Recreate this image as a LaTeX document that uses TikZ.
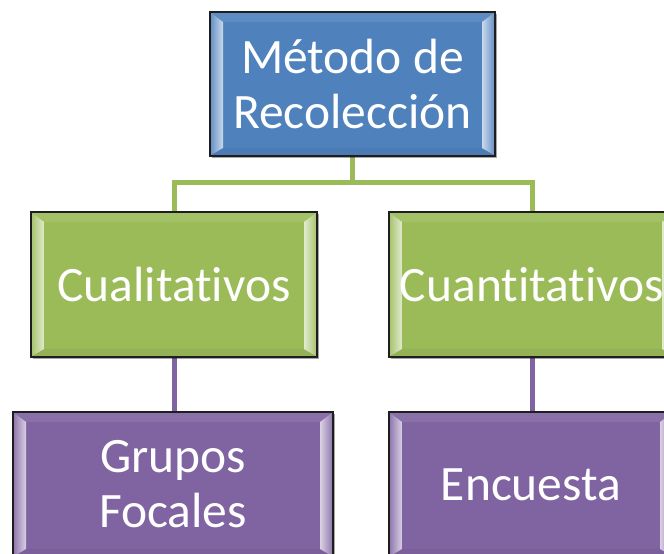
\documentclass[tikz,border=0pt]{standalone}
\usepackage{fontspec}
\newfontfamily\boxfont[Ligatures=NoCommon]{Carlito}
\usetikzlibrary{calc,shadows,backgrounds}
\definecolor{bluefill}{HTML}{4F81BD}
\definecolor{greenfill}{HTML}{9BBB59}
\definecolor{purplefill}{HTML}{8064A2}
\definecolor{boxline}{HTML}{1E1E1E}
\tikzset{
  bevel/.style={path picture={
    \coordinate (nw) at (path picture bounding box.north west);
    \coordinate (se) at (path picture bounding box.south east);
    \coordinate (ne) at (path picture bounding box.north east);
    \coordinate (sw) at (path picture bounding box.south west);
    % top band
    \fill[#1!92!white] ($(nw)+(1,-1)$) -- ($(ne)+(-1,-1)$) -- ($(ne)+(-13,-10)$) -- ($(nw)+(13,-10)$) -- cycle;
    % bottom band
    \fill[#1!95!black] ($(sw)+(1,1)$) -- ($(se)+(-1,1)$) -- ($(se)+(-13,8)$) -- ($(sw)+(13,8)$) -- cycle;
    % left band
    \shade[left color=#1!85!white, right color=#1!30!white] ($(nw)+(1,-1)$) -- ($(nw)+(13,-10)$) -- ($(sw)+(13,8)$) -- ($(sw)+(1,1)$) -- cycle;
    % right band
    \shade[right color=#1!85!white, left color=#1!30!white] ($(ne)+(-1,-1)$) -- ($(ne)+(-13,-10)$) -- ($(se)+(-13,8)$) -- ($(se)+(-1,1)$) -- cycle;
  }},
  diagbox/.style={rectangle, draw=boxline, line width=1.6pt, fill=#1,
    bevel=#1, text=white, align=center, inner sep=0pt,
    minimum height=145pt,
    font=\boxfont\fontsize{49.5}{55}\selectfont,
    drop shadow={shadow xshift=2pt, shadow yshift=-2.5pt, opacity=0.35, fill=black}},
  gline/.style={draw=greenfill, line width=5pt},
  pline/.style={draw=purplefill, line width=5pt},
}
\begin{document}
\begin{tikzpicture}[x=1pt,y=1pt]
\useasboundingbox (0,0) rectangle (664,554);
\clip (0,0) rectangle (664,554);
\node[diagbox=bluefill, minimum width=285pt, minimum height=144pt] (top) at (352.5,470) {Método de\\Recolección};
\node[diagbox=greenfill, minimum width=286pt] (gl) at (174,269.5) {Cualitativos};
\node[diagbox=greenfill, minimum width=286pt] (gr) at (532,269.5) {Cuantitativos};
\node[diagbox=purplefill, minimum width=320pt] (pl) at (173,69.5) {Grupos\\Focales};
\node[diagbox=purplefill, minimum width=284pt] (pr) at (531,69.5) {Encuesta};
\begin{scope}[on background layer]
  \coordinate (hub) at ($(top.south)+(0,-26)$);
  \draw[gline] (top.south) -- (hub) -| (gl.north);
  \draw[gline] (hub) -| (gr.north);
  \draw[pline] (gl.south) -- (gl.south |- pl.north);
  \draw[pline] (gr.south) -- (gr.south |- pr.north);
\end{scope}
\end{tikzpicture}
\end{document}
